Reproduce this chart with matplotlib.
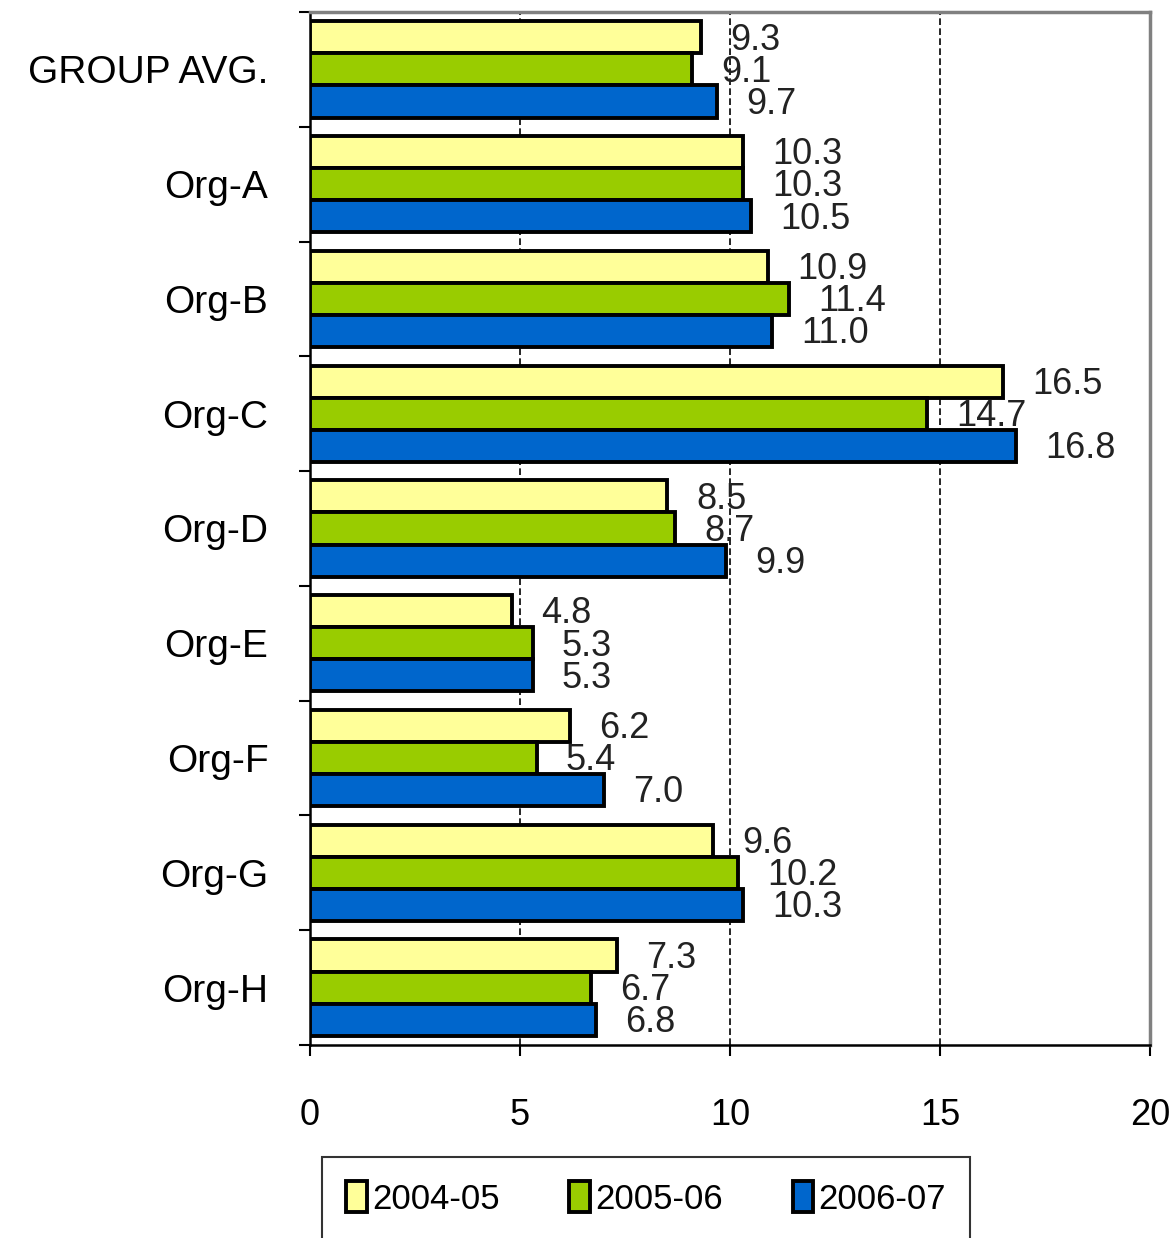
import matplotlib
matplotlib.use("Agg")
import matplotlib.pyplot as plt
import numpy as np

plt.rcParams['font.family'] = ['Liberation Sans', 'DejaVu Sans']

categories = ["GROUP AVG.", "Org-A", "Org-B", "Org-C", "Org-D", "Org-E", "Org-F", "Org-G", "Org-H"]
years = ["2004-05", "2005-06", "2006-07"]
v2004 = [9.3, 10.3, 10.9, 16.5, 8.5, 4.8, 6.2, 9.6, 7.3]
v2005 = [9.1, 10.3, 11.4, 14.7, 8.7, 5.3, 5.4, 10.2, 6.7]
v2006 = [9.7, 10.5, 11.0, 16.8, 9.9, 5.3, 7.0, 10.3, 6.8]
colors = ["#FFFF99", "#99CC00", "#0066CC"]

fig = plt.figure(figsize=(11.73, 12.38), dpi=100)
ax = fig.add_axes([310 / 1173, 1 - 1045 / 1238, 840 / 1173, 1033 / 1238])

y = np.arange(len(categories))
h = 0.28
for j, (vals, c, lab) in enumerate(zip([v2004, v2005, v2006], colors, years)):
    pos = y + (j - 1) * h
    ax.barh(pos, vals, height=h, color=c, edgecolor="black", linewidth=2.8, label=lab, zorder=3)
    for p, v in zip(pos, vals):
        ax.annotate(f"{v:.1f}", (v, p), xytext=(21, -2), textcoords="offset points",
                    ha="left", va="center", fontsize=26, color="#222222", zorder=4)

ax.set_xlim(0, 20)
ax.set_ylim(len(categories) - 0.5, -0.5)
ax.set_xticks([0, 5, 10, 15, 20])
ax.tick_params(axis="x", labelsize=26, length=8, width=1.5, pad=30, direction="out")
ax.set_yticks(np.arange(len(categories) + 1) - 0.5)
ax.set_yticklabels([])
ax.tick_params(axis="y", which="major", length=8, width=1.5, direction="out")
ax.set_yticks(y, minor=True)
ax.set_yticklabels(categories, minor=True, fontsize=28)
ax.tick_params(axis="y", which="minor", length=0, pad=30)

for x in [5, 10, 15]:
    ax.axvline(x, color="black", linestyle=(0, (4, 2)), linewidth=1.2, zorder=1)

ax.spines["left"].set_linewidth(1.8)
ax.spines["bottom"].set_linewidth(1.8)
ax.spines["top"].set_color("#808080")
ax.spines["right"].set_color("#808080")
ax.spines["top"].set_linewidth(2.5)
ax.spines["right"].set_linewidth(2.5)

leg = fig.legend(loc="upper left", bbox_to_anchor=(322 / 1173, 1 - 1157 / 1238), ncol=3,
                 fontsize=25, frameon=True, fancybox=False, edgecolor="black",
                 handlelength=0.6, handleheight=1.0, handletextpad=0.15, columnspacing=2.0,
                 borderpad=0.7, borderaxespad=0)
leg.get_frame().set_linewidth(1.5)

fig.savefig("out.png", dpi=100)
